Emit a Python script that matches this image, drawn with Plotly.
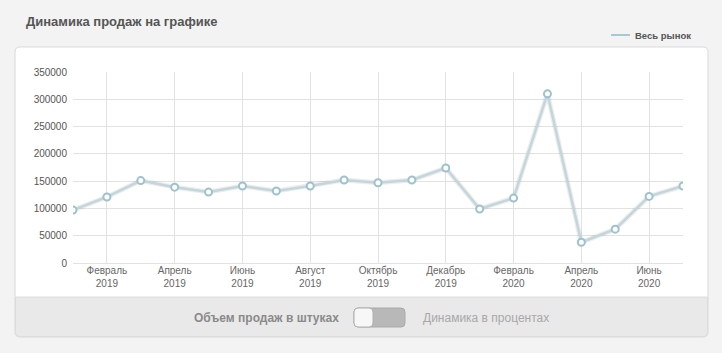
import plotly.graph_objects as go

# ---- data ----
months = ["Январь 2019", "Февраль 2019", "Март 2019", "Апрель 2019", "Май 2019",
          "Июнь 2019", "Июль 2019", "Август 2019", "Сентябрь 2019", "Октябрь 2019",
          "Ноябрь 2019", "Декабрь 2019", "Январь 2020", "Февраль 2020", "Март 2020",
          "Апрель 2020", "Май 2020", "Июнь 2020", "Июль 2020"]
sales = [97000, 121000, 151000, 139000, 130000, 141000, 132000, 141000, 152000,
         147000, 152000, 174000, 99000, 119000, 310000, 38000, 62000, 122000, 141000]
tick_months = ["Февраль 2019", "Апрель 2019", "Июнь 2019", "Август 2019",
               "Октябрь 2019", "Декабрь 2019", "Февраль 2020", "Апрель 2020", "Июнь 2020"]
tick_labels = ["Февраль<br>2019", "Апрель<br>2019", "Июнь<br>2019", "Август<br>2019",
               "Октябрь<br>2019", "Декабрь<br>2019", "Февраль<br>2020", "Апрель<br>2020",
               "Июнь<br>2020"]
y_ticks = [0, 50000, 100000, 150000, 200000, 250000, 300000, 350000]
y_tick_labels = ["0", "50000", "100000", "150000", "200000", "250000", "300000", "350000"]
series_name = "Весь рынок"
title_text = "Динамика продаж на графике"
toggle_left = "Объем продаж в штуках"
toggle_right = "Динамика в процентах"

FONT = "Helvetica, Arial, 'Liberation Sans', sans-serif"
W, H = 722, 353
L, R, T, B = 73, 683, 72, 263


def px(x):
    return (x - L) / (R - L)


def py(y):
    return (B - y) / (B - T)


def rounded(x0, y0, x1, y1, r, top=True, bottom=True):
    X0, X1 = px(x0), px(x1)
    Y0, Y1 = py(y0), py(y1)  # Y0 is top (larger), Y1 bottom
    rx = r / (R - L)
    ry = r / (B - T)
    rt_x, rt_y = (rx, ry) if top else (0, 0)
    rb_x, rb_y = (rx, ry) if bottom else (0, 0)
    return (f"M {X0+rt_x} {Y0} L {X1-rt_x} {Y0} Q {X1} {Y0} {X1} {Y0-rt_y} "
            f"L {X1} {Y1+rb_y} Q {X1} {Y1} {X1-rb_x} {Y1} "
            f"L {X0+rb_x} {Y1} Q {X0} {Y1} {X0} {Y1+rb_y} "
            f"L {X0} {Y0-rt_y} Q {X0} {Y0} {X0+rt_x} {Y0} Z")


fig = go.Figure()

# soft shadow under line
fig.add_trace(go.Scatter(
    x=months, y=sales, mode="lines",
    line=dict(color="rgba(0,0,0,0.07)", width=5),
    hoverinfo="skip", showlegend=False))

fig.add_trace(go.Scatter(
    x=months, y=sales, mode="lines+markers", name=series_name,
    line=dict(color="#c3d6dc", width=2.5),
    marker=dict(size=7, color="white", line=dict(color="#9dc2ce", width=2)),
    showlegend=False))

shapes = [
    # white panel
    dict(type="path", xref="paper", yref="paper", layer="below",
         path=rounded(15, 47, 708, 337, 5),
         fillcolor="white", line=dict(color="#d9d9d9", width=1)),
    # bottom grey bar
    dict(type="path", xref="paper", yref="paper", layer="below",
         path=rounded(15.5, 297, 707.5, 336.5, 5, top=False),
         fillcolor="#e9e9e9", line=dict(color="#dcdcdc", width=1)),
    # toggle track
    dict(type="path", xref="paper", yref="paper", layer="above",
         path=rounded(354, 308, 405, 327, 4),
         fillcolor="#b8b8b8", line=dict(color="#aaaaaa", width=1)),
    # toggle knob
    dict(type="path", xref="paper", yref="paper", layer="above",
         path=rounded(354, 308, 373, 327, 4),
         fillcolor="#f7f7f7", line=dict(color="#b0b0b0", width=1)),
    # legend line
    dict(type="line", xref="paper", yref="paper", layer="above",
         x0=px(611), x1=px(630), y0=py(35), y1=py(35),
         line=dict(color="#a8c8d3", width=2)),
]

annotations = [
    dict(text=f"<b>{title_text}</b>", xref="paper", yref="paper",
         x=px(24), y=py(21), xanchor="left", yanchor="middle", showarrow=False,
         font=dict(family=FONT, size=13, color="#555555")),
    dict(text=f"<b>{series_name}</b>", xref="paper", yref="paper",
         x=px(633), y=py(35), xanchor="left", yanchor="middle", showarrow=False,
         font=dict(family=FONT, size=9.5, color="#555555")),
    dict(text=f"<b>{toggle_left}</b>", xref="paper", yref="paper",
         x=px(341), y=py(318), xanchor="right", yanchor="middle", showarrow=False,
         font=dict(family=FONT, size=12, color="#8a8a8a")),
    dict(text=toggle_right, xref="paper", yref="paper",
         x=px(421), y=py(318), xanchor="left", yanchor="middle", showarrow=False,
         font=dict(family=FONT, size=12, color="#a8a8a8")),
]

fig.update_layout(
    width=W, height=H,
    margin=dict(l=L, r=W - R, t=T, b=H - B, pad=0),
    paper_bgcolor="#f3f3f3", plot_bgcolor="rgba(0,0,0,0)",
    font=dict(family=FONT, size=10, color="#555555"),
    shapes=shapes, annotations=annotations,
    showlegend=False,
    xaxis=dict(type="category", categoryorder="array", categoryarray=months,
               range=[0, len(months) - 1],
               tickmode="array", tickvals=tick_months, ticktext=tick_labels,
               showgrid=True, gridcolor="#e2e2e2", gridwidth=1,
               showline=False, zeroline=False, ticks="", ticklen=0,
               tickfont=dict(family=FONT, size=10, color="#666666")),
    yaxis=dict(range=[0, 350000], tickmode="array", tickvals=y_ticks,
               ticktext=y_tick_labels,
               showgrid=True, gridcolor="#e2e2e2", gridwidth=1,
               zeroline=True, zerolinecolor="#e2e2e2", zerolinewidth=1,
               showline=False, ticks="", ticklabelstandoff=5,
               tickfont=dict(family=FONT, size=10, color="#555555")),
)

fig.write_html("out.html")
